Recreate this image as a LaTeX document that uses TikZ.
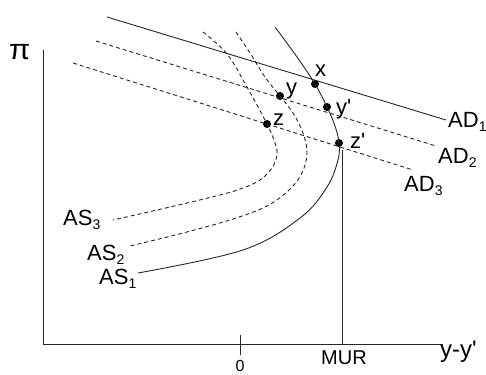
\documentclass[tikz,border=0pt]{standalone}
\usepackage{fontspec}
\setmainfont{Liberation Sans}[Ligatures=TeXOff]
\newcommand\lsub[1]{\raisebox{-4pt}{\fontsize{14}{14}\selectfont #1}}
\begin{document}
\begin{tikzpicture}[x=1pt,y=-1pt,
  curve/.style={line width=0.9pt,draw=black!85},
  dcurve/.style={curve,dash pattern=on 4pt off 3pt},
  dot/.style={circle,fill=black,inner sep=0pt,minimum size=8pt},
  lab/.style={inner sep=0pt,font=\fontsize{22}{24}\selectfont,anchor=base west},
  small/.style={inner sep=0pt,font=\fontsize{20}{22}\selectfont,anchor=base}]
\useasboundingbox (0,0) rectangle (486,374);
% axes
\coordinate (O) at (43,344);
\coordinate (top) at (43,50);
\coordinate (right) at (443,344);
\draw[curve] (top) -- (O) -- (right);
\coordinate (t0a) at (240,335);
\coordinate (t0b) at (240,355);
\draw[curve] (t0a) -- (t0b);
% dots
\node[dot] (x) at (315,84) {};
\node[dot] (y) at (280,96) {};
\node[dot] (yp) at (327,107) {};
\node[dot] (z) at (267,124) {};
\node[dot] (zp) at (339,143) {};
% MUR line
\coordinate (mur) at (342,344);
\coordinate (murtop) at (342,150);
\draw[curve] (mur) -- (murtop);
% AD lines
\coordinate (ad1a) at (107,17); \coordinate (ad1b) at (446,120);
\coordinate (ad2a) at (96,41);  \coordinate (ad2b) at (436,146);
\coordinate (ad3a) at (73,63);  \coordinate (ad3b) at (413,170);
\draw[curve] (ad1a) -- (ad1b);
\draw[dcurve] (ad2a) -- (ad2b);
\draw[dcurve] (ad3a) -- (ad3b);
% AS curves
\draw[curve] plot[smooth,tension=0.6] coordinates {(138,273) (243,250) (300,218) (327,187) (338,160) (339,143) (335,126) (327,107) (315,84) (297,57) (275,27)};
\draw[dcurve] plot[smooth,tension=0.6] coordinates {(236,32) (250,53) (265,77) (280,96) (293,113) (303,133) (307,153) (302,173) (289,190) (267,206) (233,219) (183,233) (130,246)};
\draw[dcurve] plot[smooth,tension=0.6] coordinates {(203,32) (227,54) (247,87) (267,124) (275,143) (277,155) (272,168) (260,180) (243,188) (220,195) (170,207) (113,220)};
% labels
\node[lab] (lpi) at (9,60) {\scalebox{1.4}[1.3]{π}};
\node[lab] (lx) at (315,77) {x};
\node[lab] (ly) at (286,95) {y};
\node[lab] (lyp) at (336,115) {y'};
\node[lab] (lz) at (273,125) {z};
\node[lab] (lzp) at (350,148) {z'};
\node[lab] (lad1) at (448,128) {AD\lsub{1}};
\node[lab] (lad2) at (438,163) {AD\lsub{2}};
\node[lab] (lad3) at (404,191) {AD\lsub{3}};
\node[lab] (las3) at (63,225) {AS\lsub{3}};
\node[lab] (las2) at (87,260) {AS\lsub{2}};
\node[lab] (las1) at (99,284) {AS\lsub{1}};
\node[lab,font=\fontsize{24}{26}\selectfont] (lyy) at (440,357) {y-y'};
\node[small] (lmur) at (344,364) {MUR};
\node[small,font=\fontsize{16}{18}\selectfont] (l0) at (240,371) {0};
\end{tikzpicture}
\end{document}
